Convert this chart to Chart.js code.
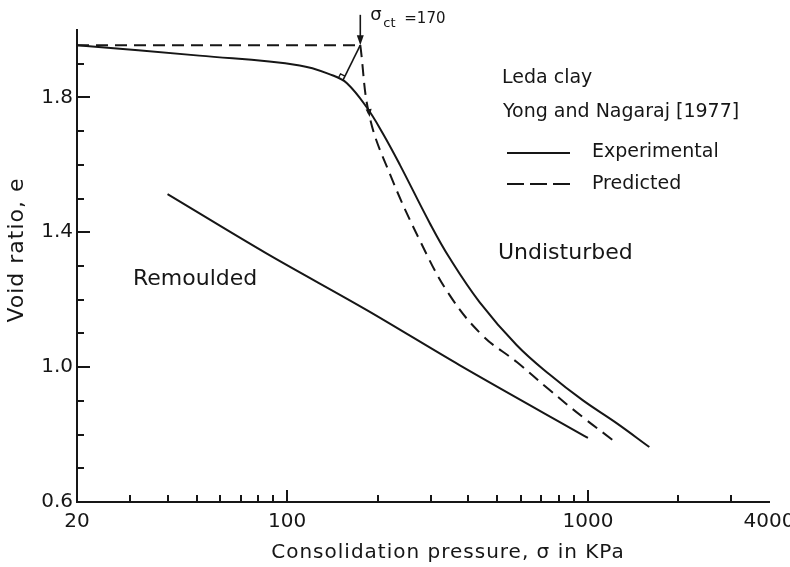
<!DOCTYPE html>
<html>
<head>
<meta charset="utf-8">
<script src="https://cdn.jsdelivr.net/npm/chart.js@4.4.1/dist/chart.umd.min.js"></script>
<style>
html, body { margin: 0; padding: 0; background: #fff; }
#wrap { width: 790px; height: 567px; position: relative; }
</style>
</head>
<body>
<div id="wrap"><canvas id="chart"></canvas></div>
<script>
// Leda clay (Yong and Nagaraj 1977): void ratio e against consolidation pressure in kPa
var expPressure = [20, 51, 110, 142, 158, 184, 208, 237, 298, 346, 436, 580, 746, 960, 1245, 1600]
var expVoid = [1.955, 1.924, 1.895, 1.865, 1.842, 1.770, 1.693, 1.600, 1.427, 1.325, 1.193, 1.065, 0.978, 0.902, 0.834, 0.763]

// predicted: flat part up to sigma_ct, then the falling branch
var predFlatPressure = [20, 175]
var predFlatVoid = [1.955, 1.955]
var predPressure = [175, 188, 219, 276, 346, 446, 580, 746, 960, 1208]
var predVoid = [1.955, 1.742, 1.575, 1.376, 1.215, 1.094, 1.015, 0.932, 0.852, 0.784]

var remPressure = [40, 85, 184, 374, 1000]
var remVoid = [1.513, 1.338, 1.169, 1.006, 0.790]

var xTicks = [20, 30, 40, 50, 60, 70, 80, 90, 100, 200, 300, 400, 500, 600, 700, 800, 900, 1000, 2000, 3000, 4000]
var xLabels = [20, 100, 1000, 4000]
var xMajor = [100, 1000]
var yTicks = [0.6, 0.7, 0.8, 0.9, 1.0, 1.1, 1.2, 1.3, 1.4, 1.5, 1.6, 1.7, 1.8, 1.9]
var yLabels = [0.6, 1.0, 1.4, 1.8]

var sigmaCt = 175      // break of the predicted curve
var sigmaCtText = '=170'
var footPressure = 153 // foot of the construction line on the experimental curve
var footVoid = 1.85

var ink = '#161616'
var FONT = '"DejaVu Sans", sans-serif'

function toPoints(xs, ys) {
    var pts = []
    for (var i = 0; i < xs.length; i++) {
        pts.push({x: xs[i], y: ys[i]})
    }
    return pts
}

function isIn(list, v) {
    for (var i = 0; i < list.length; i++) {
        if (Math.abs(list[i] - v) < 1e-6) return true
    }
    return false
}

function arrowHead(ctx, x, y, ang, len, half) {
    ctx.beginPath()
    ctx.moveTo(x, y)
    ctx.lineTo(x - len * Math.cos(ang) + half * Math.sin(ang), y - len * Math.sin(ang) - half * Math.cos(ang))
    ctx.lineTo(x - len * Math.cos(ang) - half * Math.sin(ang), y - len * Math.sin(ang) + half * Math.cos(ang))
    ctx.closePath()
    ctx.fill()
}

var annotations = {
    id: 'annotations',
    afterDraw: function(chart) {
        var ctx = chart.ctx
        var xs = chart.scales.x
        var ys = chart.scales.y
        var area = chart.chartArea
        ctx.save()
        ctx.strokeStyle = ink
        ctx.fillStyle = ink
        ctx.lineWidth = 2

        // tick marks point into the plot
        ctx.beginPath()
        xs.ticks.forEach(function(t) {
            if (t.value == 20 || t.value == 4000) return
            var len = isIn(xMajor, t.value) ? 12 : 7
            var px = Math.round(xs.getPixelForValue(t.value))
            ctx.moveTo(px, area.bottom)
            ctx.lineTo(px, area.bottom - len)
        })
        ys.ticks.forEach(function(t) {
            if (Math.abs(t.value - 0.6) < 1e-6) return
            var len = isIn(yLabels, t.value) ? 13 : 7
            var py = Math.round(ys.getPixelForValue(t.value))
            ctx.moveTo(area.left, py)
            ctx.lineTo(area.left + len, py)
        })
        ctx.stroke()

        // sigma_ct arrow
        var cx = xs.getPixelForValue(sigmaCt)
        var cy = ys.getPixelForValue(predFlatVoid[1])
        ctx.lineWidth = 1.6
        ctx.beginPath()
        ctx.moveTo(cx, ys.getPixelForValue(2.045))
        ctx.lineTo(cx, cy - 4)
        ctx.stroke()
        arrowHead(ctx, cx, cy, Math.PI / 2, 10, 3.5)

        // construction line to the experimental curve, with right-angle mark
        var fx = xs.getPixelForValue(footPressure)
        var fy = ys.getPixelForValue(footVoid)
        ctx.beginPath()
        ctx.moveTo(cx, cy)
        ctx.lineTo(fx, fy)
        ctx.stroke()
        var dx = cx - fx, dy = cy - fy
        var d = Math.sqrt(dx * dx + dy * dy)
        dx /= d; dy /= d
        var s = 5
        ctx.lineWidth = 1.2
        ctx.beginPath()
        ctx.moveTo(fx + dx * s, fy + dy * s)
        ctx.lineTo(fx + dx * s + dy * s, fy + dy * s - dx * s)
        ctx.lineTo(fx + dy * s, fy - dx * s)
        ctx.stroke()

        // small arrow on the predicted branch where it crosses
        var ax0 = xs.getPixelForValue(predPressure[0]), ay0 = ys.getPixelForValue(predVoid[0])
        var ax1 = xs.getPixelForValue(predPressure[1]), ay1 = ys.getPixelForValue(predVoid[1])
        arrowHead(ctx, ax1, ay1, Math.atan2(ay1 - ay0, ax1 - ax0), 8, 3)

        // sigma_ct label
        ctx.textBaseline = 'alphabetic'
        ctx.textAlign = 'left'
        ctx.font = '18px ' + FONT
        ctx.fillText('\u03c3', cx + 10, 20)
        ctx.font = '13px ' + FONT
        ctx.fillText('ct', cx + 23, 27)
        ctx.font = '15px ' + FONT
        ctx.fillText(sigmaCtText, cx + 44, 23)

        // legend block
        ctx.textBaseline = 'middle'
        ctx.font = '19px ' + FONT
        ctx.fillText('Leda clay', 502, 78)
        ctx.fillText('Yong and Nagaraj [1977]', 503, 112)
        ctx.fillText('Experimental', 592, 152)
        ctx.fillText('Predicted', 592, 184)
        ctx.lineWidth = 2
        ctx.beginPath()
        ctx.moveTo(507, 153)
        ctx.lineTo(570, 153)
        ctx.stroke()
        ctx.setLineDash([17, 6])
        ctx.beginPath()
        ctx.moveTo(507, 184)
        ctx.lineTo(572, 184)
        ctx.stroke()
        ctx.setLineDash([])

        ctx.font = '22px ' + FONT
        ctx.fillText('Undisturbed', 498, 253)
        ctx.fillText('Remoulded', 133, 279)

        // axis titles
        ctx.textAlign = 'center'
        ctx.font = '20px ' + FONT
        ctx.letterSpacing = '1px'
        ctx.fillText('Consolidation pressure, \u03c3 in KPa', 448, 553)
        ctx.translate(17, 250)
        ctx.rotate(-Math.PI / 2)
        ctx.font = '22px ' + FONT
        ctx.fillText('Void ratio, e', 0, 0)
        ctx.restore()
    }
}

Chart.defaults.font.family = FONT
Chart.defaults.color = ink

var lineStyle = {
    borderColor: ink,
    borderWidth: 2,
    pointRadius: 0,
    fill: false
}

new Chart(document.getElementById('chart'), {
    type: 'line',
    data: {
        datasets: [
            Object.assign({label: 'Experimental', data: toPoints(expPressure, expVoid), tension: 0.4}, lineStyle),
            Object.assign({label: 'Predicted', data: toPoints(predFlatPressure, predFlatVoid), borderDash: [12, 7]}, lineStyle),
            Object.assign({label: 'Predicted', data: toPoints(predPressure, predVoid), borderDash: [12, 7], tension: 0.4}, lineStyle),
            Object.assign({label: 'Remoulded', data: toPoints(remPressure, remVoid), cubicInterpolationMode: 'monotone'}, lineStyle)
        ]
    },
    options: {
        responsive: true,
        maintainAspectRatio: false,
        animation: false,
        layout: {padding: {top: 30, right: 21, left: 0, bottom: 0}},
        plugins: {
            legend: {display: false},
            tooltip: {enabled: false}
        },
        scales: {
            x: {
                type: 'logarithmic',
                min: 20,
                max: 4000,
                grid: {display: false, drawTicks: false},
                border: {display: true, color: ink, width: 2},
                afterBuildTicks: function(scale) {
                    scale.ticks = xTicks.map(function(v) { return {value: v} })
                },
                afterFit: function(scale) {
                    scale.height = 65
                    scale.paddingLeft = 0
                    scale.paddingRight = 0
                },
                ticks: {
                    autoSkip: false,
                    maxRotation: 0,
                    padding: 8,
                    font: {size: 20},
                    color: ink,
                    callback: function(value) {
                        return isIn(xLabels, value) ? String(value) : ''
                    }
                }
            },
            y: {
                min: 0.6,
                max: 2.0,
                grid: {display: false, drawTicks: false},
                border: {display: true, color: ink, width: 2},
                afterBuildTicks: function(scale) {
                    scale.ticks = yTicks.map(function(v) { return {value: v} })
                },
                afterFit: function(scale) {
                    scale.width = 77
                    scale.paddingTop = 0
                    scale.paddingBottom = 0
                },
                ticks: {
                    autoSkip: false,
                    padding: 4,
                    font: {size: 20},
                    color: ink,
                    callback: function(value) {
                        return isIn(yLabels, value) ? value.toFixed(1) : ''
                    }
                }
            }
        }
    },
    plugins: [annotations]
});
</script>
</body>
</html>
